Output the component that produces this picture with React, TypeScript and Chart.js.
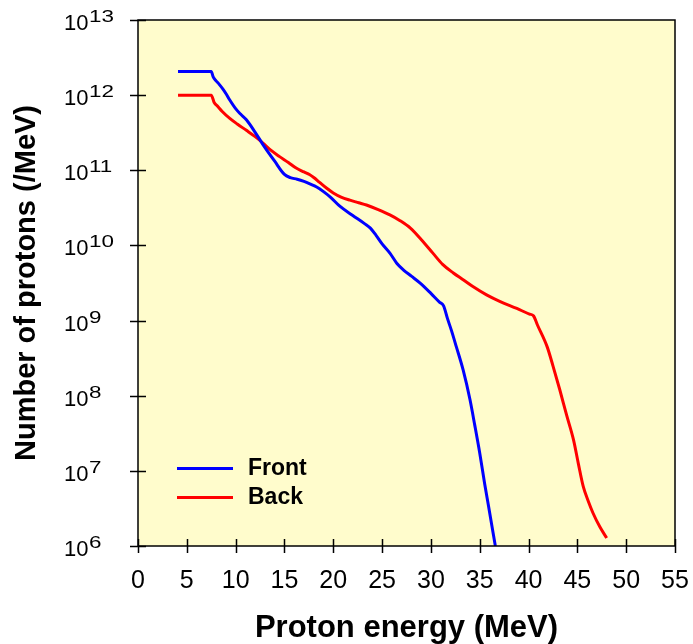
import { useEffect, useRef } from "react";
import { Chart, registerables } from "chart.js";

Chart.register(...registerables);

// Proton spectra measured at the front and back of the target
const frontEnergy = [
  4.1, 7.5, 7.7, 8.0, 8.3, 8.7, 9.0, 9.4, 10.0, 10.5, 11.1, 12.0, 12.8, 14.0, 15.0, 15.6,
  16.3, 17.0, 17.6, 18.3, 19.0, 19.7, 20.7, 22.0, 23.2, 23.8, 24.4, 25.0, 25.8, 26.5, 27.2, 28.0, 28.9,
  30.0, 30.9, 31.3, 31.7, 32.1, 32.6, 33.3, 34.0, 34.5, 35.0, 35.5, 35.9, 36.6,
];
const frontCounts = [
  2.06e12, 2.06e12, 1.75e12, 1.55e12, 1.4e12, 1.2e12, 1.05e12, 8.6e11, 6.6e11,
  5.6e11, 4.7e11, 3.2e11, 2.2e11, 1.32e11, 8.8e10, 8.0e10, 7.6e10, 7.1e10, 6.6e10, 6.0e10, 5.2e10, 4.4e10,
  3.3e10, 2.5e10, 1.95e10, 1.7e10, 1.35e10, 1.05e10, 7.9e9, 5.8e9, 4.7e9, 3.9e9, 3.15e9, 2.3e9, 1.75e9,
  1.57e9, 1.06e9, 7.4e8, 4.5e8, 2.2e8, 8.9e7, 4.0e7, 1.73e7, 6.8e6, 3.4e6, 1.0e6,
];

const backEnergy = [
  4.1, 7.5, 7.8, 8.2, 8.6, 9.4, 10.2, 11.1, 12.0, 12.8, 13.6, 14.5, 15.4, 16.2, 17.0, 17.6, 18.0,
  18.6, 19.3, 20.0, 20.8, 21.7, 22.6, 23.4, 24.6, 25.8, 26.8, 27.9, 29.0, 30.2, 31.2, 32.3, 33.3, 34.3,
  35.7, 37.1, 38.8, 40.1, 40.5, 40.9, 41.9, 42.5, 43.2, 43.9, 44.6, 45.1, 45.6, 46.1, 46.6, 47.3, 48.0,
];
const backCounts = [
  1.0e12, 1.0e12, 8.0e11, 7.0e11, 6.1e11, 4.9e11, 4.1e11, 3.4e11, 2.8e11, 2.3e11, 1.85e11,
  1.52e11, 1.27e11, 1.07e11, 9.5e10, 8.7e10, 8.0e10, 6.9e10, 5.8e10, 5.0e10, 4.4e10, 4.0e10, 3.7e10,
  3.45e10, 3.0e10, 2.55e10, 2.15e10, 1.7e10, 1.2e10, 7.9e9, 5.6e9, 4.3e9, 3.5e9, 2.84e9, 2.2e9, 1.79e9,
  1.45e9, 1.22e9, 1.16e9, 8.8e8, 4.5e8, 2.5e8, 1.2e8, 5.5e7, 2.6e7, 1.25e7, 6.2e6, 4.0e6, 2.75e6,
  1.8e6, 1.28e6,
];

const seriesNames = ["Front", "Back"];
const seriesColors = ["#0000ff", "#ff0000"];

const xTickValues = [0, 5, 10, 15, 20, 25, 30, 35, 40, 45, 50, 55];
const yDecadeExponents = [6, 7, 8, 9, 10, 11, 12, 13];

const FONT = "'Liberation Sans', Arial, Helvetica, sans-serif";

const toPoints = (xs: number[], ys: number[]) => xs.map((x, i) => ({ x, y: ys[i] }));

// Plot background, frame, crossing tick marks, superscript decade labels and the inset legend
const decorPlugin = {
  id: "decor",
  beforeDatasetsDraw(chart: any) {
    const { ctx, chartArea: a } = chart;
    ctx.save();
    ctx.fillStyle = "#fffccc";
    ctx.fillRect(a.left, a.top, a.right - a.left, a.bottom - a.top);
    ctx.restore();
  },
  afterDraw(chart: any) {
    const { ctx, chartArea: a, scales } = chart;
    const xs = scales.x;
    const ys = scales.y;
    ctx.save();

    // frame
    ctx.strokeStyle = "#000";
    ctx.lineWidth = 1.5;
    ctx.strokeRect(a.left, a.top, a.right - a.left, a.bottom - a.top);

    // tick marks crossing the axes
    ctx.beginPath();
    for (const v of xTickValues) {
      const px = Math.round(xs.getPixelForValue(v)) + 0.5;
      ctx.moveTo(px, a.bottom - 7);
      ctx.lineTo(px, a.bottom + 7);
    }
    for (const e of yDecadeExponents) {
      const py = Math.round(ys.getPixelForValue(Math.pow(10, e))) + 0.5;
      ctx.moveTo(a.left - 8, py);
      ctx.lineTo(a.left + 8, py);
    }
    ctx.stroke();

    // decade labels: 10 with superscript exponent
    ctx.fillStyle = "#000";
    ctx.textBaseline = "alphabetic";
    ctx.textAlign = "left";
    for (const e of yDecadeExponents) {
      const py = ys.getPixelForValue(Math.pow(10, e));
      ctx.font = `22px ${FONT}`;
      const baseX = 64;
      ctx.fillText("10", baseX, py + 10);
      const w = ctx.measureText("10").width;
      ctx.save();
      ctx.font = `16px ${FONT}`;
      ctx.translate(baseX + w + 0.5, py + 2);
      ctx.scale(1.4, 1);
      ctx.fillText(String(e), 0, 0);
      ctx.restore();
    }

    // legend inside the plot
    const rows = [468, 497];
    chart.data.datasets.forEach((ds: any, i: number) => {
      const y = rows[i];
      ctx.strokeStyle = ds.borderColor;
      ctx.lineWidth = 3;
      ctx.beginPath();
      ctx.moveTo(177, y + 0.5);
      ctx.lineTo(233, y + 0.5);
      ctx.stroke();
      ctx.fillStyle = "#000";
      ctx.font = `bold 23px ${FONT}`;
      ctx.textBaseline = "middle";
      ctx.fillText(ds.label, 248, y + 1);
    });

    ctx.restore();
  },
};

export default function App() {
  const canvasRef = useRef<HTMLCanvasElement>(null);

  useEffect(() => {
    if (!canvasRef.current) return;
    Chart.defaults.font.family = FONT;
    const lineStyle = {
      borderWidth: 3,
      pointRadius: 0,
      cubicInterpolationMode: "monotone" as const,
      fill: false,
    };
    const chart = new Chart(canvasRef.current, {
      type: "line",
      data: {
        datasets: [
          {
            label: seriesNames[0],
            data: toPoints(frontEnergy, frontCounts),
            borderColor: seriesColors[0],
            ...lineStyle,
          },
          {
            label: seriesNames[1],
            data: toPoints(backEnergy, backCounts),
            borderColor: seriesColors[1],
            ...lineStyle,
          },
        ],
      },
      options: {
        animation: false,
        responsive: false,
        devicePixelRatio: 1,
        layout: { padding: { top: 20, right: 18, left: 0, bottom: 0 } },
        plugins: {
          legend: { display: false },
          tooltip: { enabled: false },
        },
        scales: {
          x: {
            type: "linear",
            min: 0,
            max: 55,
            grid: { display: false, drawTicks: false },
            border: { display: false },
            afterBuildTicks: (scale: any) => {
              scale.ticks = xTickValues.map((v) => ({ value: v }));
            },
            ticks: {
              color: "#000",
              font: { size: 25 },
              padding: 20,
              maxRotation: 0,
              autoSkip: false,
            },
            title: {
              display: true,
              text: "Proton energy (MeV)",
              color: "#000",
              font: { size: 31, weight: "bold", lineHeight: 1 },
              padding: { top: 0, bottom: 0 },
            },
            afterFit: (scale: any) => {
              scale.height = 98;
              scale.paddingLeft = 0;
              scale.paddingRight = 0;
            },
          },
          y: {
            type: "logarithmic",
            min: 1e6,
            max: 1e13,
            grid: { display: false, drawTicks: false },
            border: { display: false },
            ticks: { display: false },
            title: {
              display: true,
              text: "Number of protons (/MeV)",
              color: "#000",
              font: { size: 29, weight: "bold", lineHeight: 1 },
              padding: { top: 12, bottom: 0 },
            },
            afterFit: (scale: any) => {
              scale.width = 138;
            },
          },
        },
      } as any,
      plugins: [decorPlugin],
    });
    return () => chart.destroy();
  }, []);

  return (
    <div style={{ position: "absolute", left: 0, top: 0, width: 693, height: 644 }}>
      <canvas ref={canvasRef} width={693} height={644} style={{ display: "block", width: 693, height: 644 }} />
    </div>
  );
}
